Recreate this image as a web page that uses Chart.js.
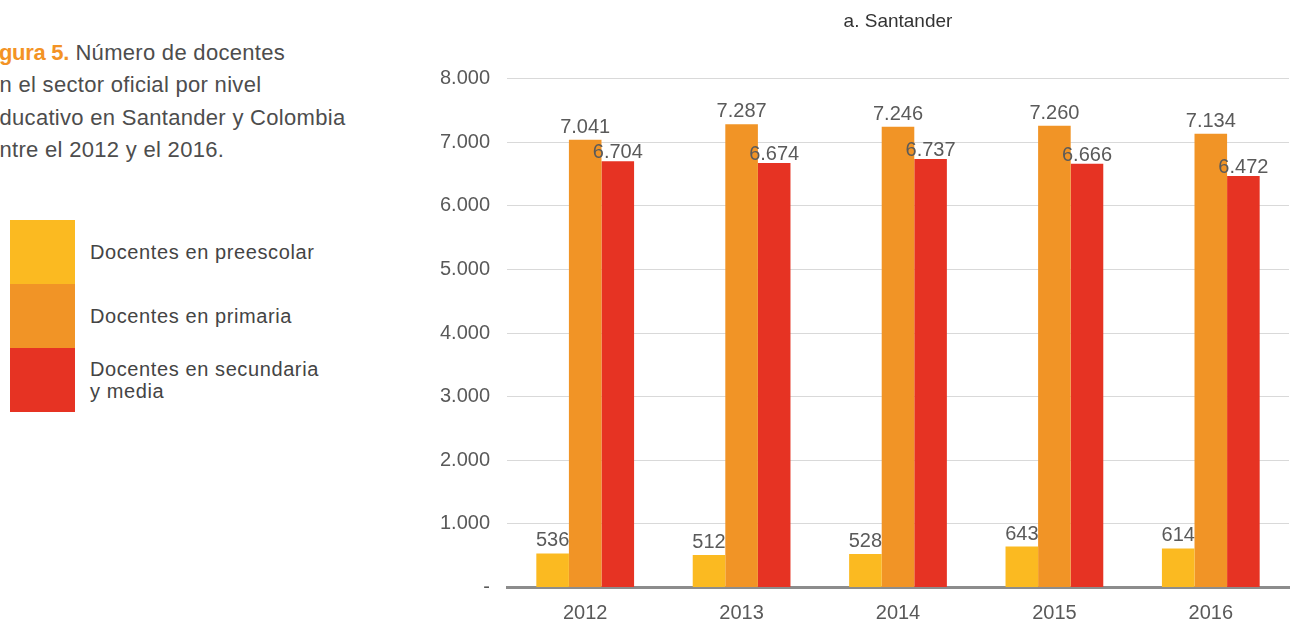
<!DOCTYPE html>
<html>
<head>
<meta charset="utf-8">
<script src="https://cdn.jsdelivr.net/npm/chart.js@4.4.1/dist/chart.umd.min.js"></script>
<style>
  html, body { margin: 0; padding: 0; background: #fff; }
  body { width: 1297px; height: 624px; position: relative; overflow: hidden; font-family: "Liberation Sans", Arial, sans-serif; }
  #caption { position: absolute; left: -13px; top: 37px; font-size: 22px; line-height: 32.3px; color: #4d4d4d; letter-spacing: 0.3px; white-space: nowrap; }
  #caption b { color: #F39325; letter-spacing: -0.3px; margin-left: -7px; }
  #legend { position: absolute; left: 10px; top: 220px; }
  .row { display: flex; align-items: center; height: 64px; }
  .sw { width: 65px; height: 64px; flex: none; }
  .lt { margin-left: 15px; font-size: 20px; line-height: 22px; color: #444; letter-spacing: 0.6px; }
  #wrap { position: absolute; left: 420px; top: 0; width: 877px; height: 624px; }
</style>
</head>
<body>
<div id="caption"><b>Figura 5.</b> Número de docentes<br>en el sector oficial por nivel<br>educativo en Santander y Colombia<br>entre el 2012 y el 2016.</div>
<div id="legend"></div>
<div id="wrap"><canvas id="c"></canvas></div>
<script>
const chartTitle = 'a. Santander';
const years = ['2012', '2013', '2014', '2015', '2016'];
const seriesNames = ['Docentes en preescolar', 'Docentes en primaria', 'Docentes en secundaria y media'];
const legendLines = [['Docentes en preescolar'], ['Docentes en primaria'], ['Docentes en secundaria', 'y media']];
const preescolar = [536, 512, 528, 643, 614];
const primaria = [7041, 7287, 7246, 7260, 7134];
const secundaria = [6704, 6674, 6737, 6666, 6472];
const yTicks = [0, 1000, 2000, 3000, 4000, 5000, 6000, 7000, 8000];
const colors = ['#FBBA21', '#F19426', '#E63323'];

function fmt(v) {
  if (v === 0) return '-';
  return String(v).replace(/\B(?=(\d{3})+(?!\d))/g, '.');
}

// HTML legend
const leg = document.getElementById('legend');
legendLines.forEach((lines, i) => {
  const r = document.createElement('div'); r.className = 'row';
  const s = document.createElement('div'); s.className = 'sw'; s.style.background = colors[i];
  const t = document.createElement('div'); t.className = 'lt'; t.innerHTML = lines.join('<br>');
  r.appendChild(s); r.appendChild(t); leg.appendChild(r);
});

const labelOffsets = [7, 7, 3];
const valueLabels = {
  id: 'valueLabels',
  afterDraw(chart) {
    const ctx = chart.ctx;
    ctx.save();
    ctx.font = '20px "Liberation Sans", Arial, sans-serif';
    ctx.fillStyle = '#5a5a5a';
    ctx.textAlign = 'center';
    ctx.textBaseline = 'alphabetic';
    chart.data.datasets.forEach((ds, di) => {
      const meta = chart.getDatasetMeta(di);
      meta.data.forEach((bar, i) => {
        ctx.fillText(fmt(ds.data[i]), bar.x, bar.y - labelOffsets[di]);
      });
    });
    ctx.restore();
  }
};

new Chart(document.getElementById('c'), {
  type: 'bar',
  data: {
    labels: years,
    datasets: [
      { label: seriesNames[0], data: preescolar, backgroundColor: colors[0] },
      { label: seriesNames[1], data: primaria, backgroundColor: colors[1] },
      { label: seriesNames[2], data: secundaria, backgroundColor: colors[2] }
    ]
  },
  options: {
    responsive: true,
    maintainAspectRatio: false,
    animation: false,
    datasets: { bar: { categoryPercentage: 0.625, barPercentage: 1.0, borderWidth: 0 } },
    layout: { padding: { top: 0, right: 8, bottom: 0, left: 0 } },
    plugins: {
      legend: { display: false },
      tooltip: { enabled: false },
      title: {
        display: true, text: chartTitle, color: '#333', fullSize: false,
        font: { family: '"Liberation Sans", Arial, sans-serif', size: 19, weight: 'normal', lineHeight: 1.2 },
        padding: { top: 10, bottom: 46 }
      }
    },
    scales: {
      x: {
        grid: { display: false, drawTicks: false },
        border: { display: true, color: '#8c8c8c', width: 3 },
        ticks: { color: '#595959', padding: 14, font: { family: '"Liberation Sans", Arial, sans-serif', size: 20 } },
        afterFit(scale) { scale.height = 36.5; }
      },
      y: {
        min: 0, max: 8000,
        z: 1,
        afterBuildTicks(scale) { scale.ticks = yTicks.map(v => ({ value: v })); },
        grid: { color: 'rgba(0,0,0,0.15)', lineWidth: 1, drawTicks: false },
        border: { display: false },
        ticks: {
          color: '#595959', padding: 17,
          font: { family: '"Liberation Sans", Arial, sans-serif', size: 20 },
          callback: (v) => fmt(v)
        },
        afterFit(scale) { scale.width = 87; }
      }
    }
  },
  plugins: [valueLabels]
});
</script>
</body>
</html>
